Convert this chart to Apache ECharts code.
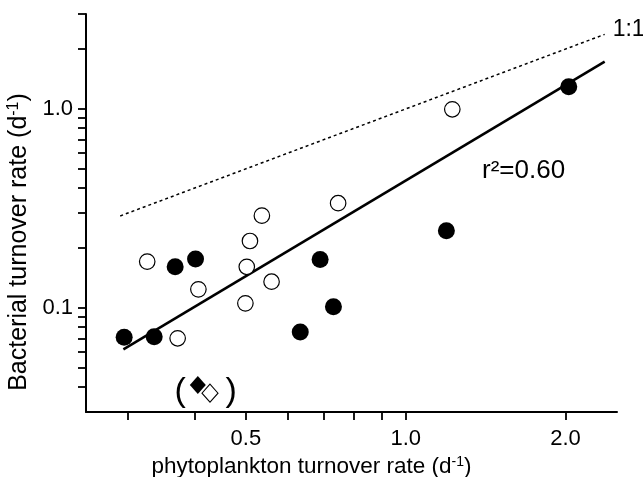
<!DOCTYPE html>
<html>
<head>
<meta charset="utf-8">
<script src="https://cdn.jsdelivr.net/npm/echarts@6/dist/echarts.min.js"></script>
<style>
  html, body { margin: 0; padding: 0; background: #fff; }
  #chart { width: 643px; height: 477px; }
</style>
</head>
<body>
<div id="chart"></div>
<script>
// ---- Data (phytoplankton vs bacterial turnover, d^-1) ----
const openX   = [0.372, 0.326, 0.407, 0.509, 0.536, 0.502, 0.559, 0.499, 0.746, 1.224];
const openY   = [0.0704, 0.171, 0.124, 0.217, 0.291, 0.161, 0.1355, 0.1055, 0.336, 0.996];
const filledX = [0.295, 0.336, 0.368, 0.402, 0.690, 0.731, 0.633, 1.193, 2.028];
const filledY = [0.0712, 0.0717, 0.161, 0.176, 0.175, 0.1014, 0.0757, 0.2445, 1.294];
// excluded points (in parentheses)
const diamondFilledX = [0.406];
const diamondFilledY = [0.041];
const diamondOpenX   = [0.428];
const diamondOpenY   = [0.0373];
// regression line endpoints and 1:1 line endpoints
const regX = [0.294, 2.37];
const regY = [0.062, 1.727];
const oneX = [0.29, 2.37];
const oneY = [0.29, 2.37];
// axis ticks and labels
const xTicks  = [0.3, 0.4, 0.5, 0.6, 0.7, 0.8, 0.9, 1.0, 2.0];
const xLabels = [0.5, 1.0, 2.0];
const yTicks  = [0.04, 0.05, 0.06, 0.07, 0.08, 0.09, 0.1, 0.2, 0.3, 0.4, 0.5, 0.6, 0.7, 0.8, 0.9, 1.0, 2.0, 3.0];
const yLabels = [0.1, 1.0];
const xRange = [0.25, 2.5];
const yRange = [0.03, 3];
const r2Text = 'r²=0.60';
const oneToOneText = '1:1';

const zip = (a, b) => a.map((v, i) => [v, b[i]]);
const FONT = '"Liberation Sans", Arial, Helvetica, sans-serif';

const chart = echarts.init(document.getElementById('chart'), null, { renderer: 'canvas' });

const axisCommon = {
  axisLine: { show: true, lineStyle: { color: '#000', width: 2 } },
  splitLine: { show: false },
  minorTick: { show: false },
  axisLabel: { color: '#000', fontSize: 22, fontFamily: FONT, formatter: v => Number(v).toFixed(1) }
};

const option = {
  backgroundColor: '#fff',
  animation: false,
  grid: { left: 86, right: 26, top: 14, bottom: 65, containLabel: false, outerBoundsMode: 'none' },
  xAxis: Object.assign({}, axisCommon, {
    type: 'log', logBase: 10, min: xRange[0], max: xRange[1],
    axisTick: { show: true, inside: false, length: 8, lineStyle: { color: '#000', width: 1.8 }, customValues: xTicks },
    axisLabel: Object.assign({}, axisCommon.axisLabel, { customValues: xLabels, margin: 16 }),
    name: 'phytoplankton turnover rate (d{sup|-1})',
    nameLocation: 'middle', nameGap: 42,
    nameTextStyle: { color: '#000', fontSize: 22.5, fontFamily: FONT, padding: [0, 80, 0, 0],
      rich: { sup: { fontSize: 14, fontFamily: FONT, color: '#000', verticalAlign: 'top', padding: [0, 0, 10, 0] } } }
  }),
  yAxis: Object.assign({}, axisCommon, {
    type: 'log', logBase: 10, min: yRange[0], max: yRange[1],
    axisTick: { show: true, inside: false, length: 8, lineStyle: { color: '#000', width: 1.8 }, customValues: yTicks },
    axisLabel: Object.assign({}, axisCommon.axisLabel, { customValues: yLabels, margin: 13 }),
    name: 'Bacterial turnover rate (d{sup|-1})',
    nameLocation: 'middle', nameGap: 48,
    nameTextStyle: { color: '#000', fontSize: 25, fontFamily: FONT, padding: [0, 58, 0, 0],
      rich: { sup: { fontSize: 16, fontFamily: FONT, color: '#000', verticalAlign: 'top', padding: [0, 0, 11, 0] } } }
  }),
  graphic: [
    { type: 'text', left: 482, top: 158, silent: true,
      style: { text: r2Text, fill: '#000', font: '26px ' + FONT } }
  ],
  series: [
    {
      name: '1:1', type: 'line', data: zip(oneX, oneY), symbol: 'none', z: 2,
      lineStyle: { color: '#000', width: 1.5, type: [3, 3] },
      endLabel: { show: true, formatter: oneToOneText, distance: 8, offset: [0, -5],
        color: '#000', fontSize: 23, fontFamily: FONT }
    },
    {
      name: 'regression', type: 'line', data: zip(regX, regY), symbol: 'none', z: 3,
      lineStyle: { color: '#000', width: 2.6 }
    },
    {
      name: 'open', type: 'scatter', data: zip(openX, openY), symbol: 'circle', symbolSize: 15.5, z: 4,
      itemStyle: { color: '#fff', borderColor: '#000', borderWidth: 1.2, opacity: 1 }
    },
    {
      name: 'filled', type: 'scatter', data: zip(filledX, filledY), symbol: 'circle', symbolSize: 17, z: 5,
      itemStyle: { color: '#000', borderWidth: 0, opacity: 1 }
    },
    {
      name: 'excluded open', type: 'scatter', data: zip(diamondOpenX, diamondOpenY), symbol: 'diamond', symbolSize: [16, 18], z: 4,
      itemStyle: { color: '#fff', borderColor: '#000', borderWidth: 1.1, opacity: 1 },
      label: { show: true, formatter: ')', position: 'right', offset: [2, -2], color: '#000', fontSize: 34, fontFamily: FONT }
    },
    {
      name: 'excluded filled', type: 'scatter', data: zip(diamondFilledX, diamondFilledY), symbol: 'diamond', symbolSize: [16, 18], z: 5,
      itemStyle: { color: '#000', opacity: 1 },
      label: { show: true, formatter: '(', position: 'left', offset: [1, 7], color: '#000', fontSize: 34, fontFamily: FONT }
    }
  ]
};

chart.setOption(option);
</script>
</body>
</html>
